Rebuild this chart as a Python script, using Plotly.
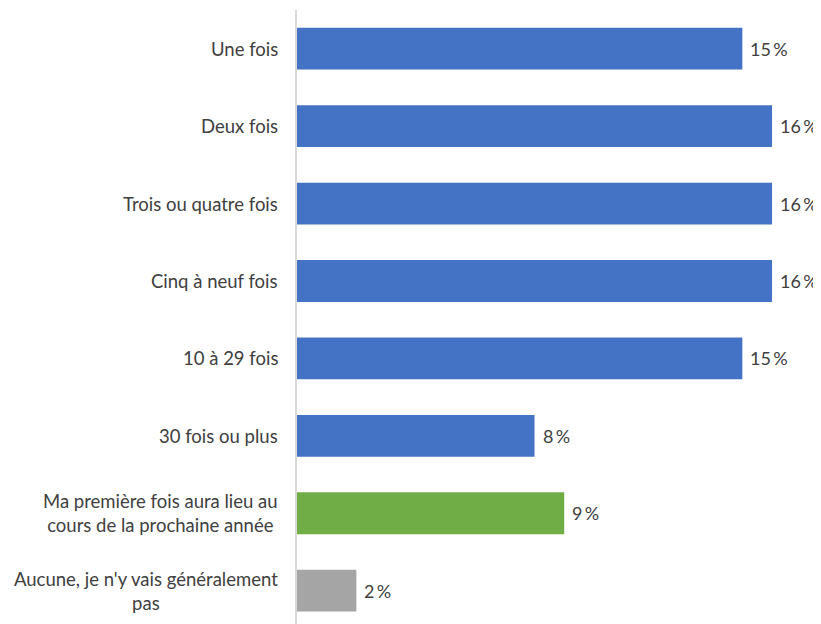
import plotly.graph_objects as go

categories = [
    "Une fois",
    "Deux fois",
    "Trois ou quatre fois",
    "Cinq à neuf fois",
    "10 à 29 fois",
    "30 fois ou plus",
    "Ma première fois aura lieu au<br>cours de la prochaine année",
    "Aucune, je n'y vais généralement<br>pas",
]
values = [15, 16, 16, 16, 15, 8, 9, 2]
colors = ["#4472C4"] * 6 + ["#70AD47", "#A5A5A5"]
value_labels = [f"{v}\u2009%" for v in values]

FONT = "Lato, Carlito, Calibri, sans-serif"
TXT = "#404040"
FS = 18.5
FS_VAL = 18

fig = go.Figure()
fig.add_trace(go.Bar(
    y=list(range(len(categories))),
    x=values,
    orientation="h",
    marker=dict(color=colors, line=dict(width=0)),
    hoverinfo="skip",
))

for i, c in enumerate(categories):
    fig.add_annotation(
        x=0, xref="paper", y=i, yref="y",
        text=c, showarrow=False,
        xanchor="right", yanchor="middle", align="center",
        xshift=-17,
        font=dict(family=FONT, size=FS, color=TXT),
    )
    fig.add_annotation(
        x=values[i], xref="x", y=i, yref="y",
        text=value_labels[i], showarrow=False,
        xanchor="left", yanchor="middle",
        xshift=6,
        font=dict(family=FONT, size=FS_VAL, color=TXT),
    )

# page body adds an 8px offset; compensate in size and margins
fig.update_layout(
    width=813, height=616,
    margin=dict(l=289, r=0, t=2, b=0),
    paper_bgcolor="white", plot_bgcolor="white",
    bargap=0.46,
    showlegend=False,
)
fig.update_xaxes(range=[0, (813 - 289) / 29.69], showgrid=False, zeroline=False,
                 showticklabels=False, showline=False, fixedrange=True)
fig.update_yaxes(range=[7.43, -0.5], showgrid=False, zeroline=False,
                 showticklabels=False, showline=True, linecolor="#D9D9D9",
                 linewidth=1.5, mirror=False, ticks="")

fig.write_html("out.html")
